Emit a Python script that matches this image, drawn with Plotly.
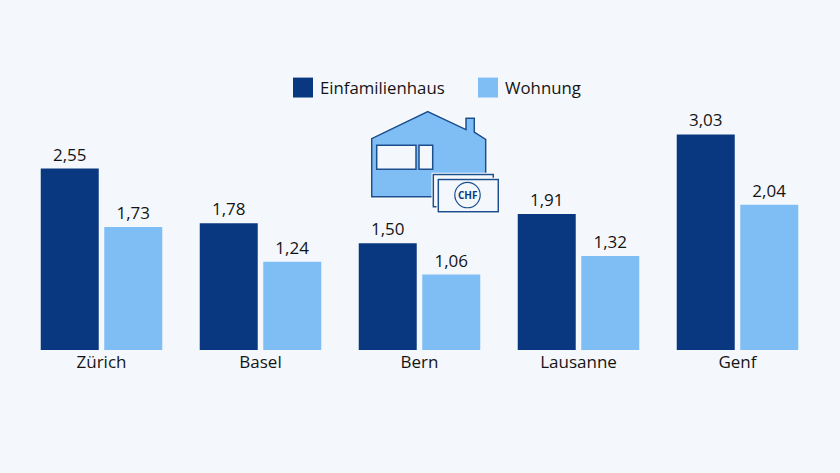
# -*- coding: utf-8 -*-
import plotly.graph_objects as go

cities = ["Zürich", "Basel", "Bern", "Lausanne", "Genf"]
einfamilienhaus = [2.55, 1.78, 1.50, 1.91, 3.03]
wohnung = [1.73, 1.24, 1.06, 1.32, 2.04]

BG = "#f4f8fd"
DARK = "#0a3880"
LIGHT = "#7fbdf5"
INK = "#141414"
OUTLINE = "#1d4f8f"
W, H = 840, 473
ML, MR, MT, MB = 22, 23, 100.5, 122.5


# Pixelposition im Bild -> paper-Koordinaten (fuer Icon und Legende)
def px(x):
    return (x - ML) / (W - ML - MR)


def py(y):
    return 1 - (y - MT) / (H - MT - MB)


def path(points):
    return "M " + " L ".join(f"{px(x)} {py(y)}" for x, y in points) + " Z"


def poly(points, fill, line=OUTLINE, width=1.5):
    return dict(type="path", xref="paper", yref="paper", path=path(points),
                fillcolor=fill, line=dict(color=line, width=width), layer="above")


def rect(x0, y0, x1, y1, fill, line=OUTLINE, width=1.5):
    return poly([(x0, y0), (x1, y0), (x1, y1), (x0, y1)], fill, line, width)


fig = go.Figure()
for name, values, color in [("Einfamilienhaus", einfamilienhaus, DARK), ("Wohnung", wohnung, LIGHT)]:
    fig.add_trace(go.Bar(
        name=name, x=cities, y=values,
        marker=dict(color=color, line=dict(width=0)),
        texttemplate="%{y:.2f}", textposition="outside", cliponaxis=False,
        textfont=dict(size=17, color=INK),
    ))

house = [(371.7, 138.3), (427.7, 111), (466, 129.3), (466, 117.7), (474.3, 117.7),
         (474.3, 131.7), (485.7, 139), (485.7, 174), (433.3, 174), (433.3, 196.7), (371.7, 196.7)]

shapes = [
    # Legende
    rect(293, 77, 313, 97, DARK, DARK, 0),
    rect(478, 77, 498, 97, LIGHT, LIGHT, 0),
    # Haus: weisser Saum unter der dunklen Kontur
    poly(house, LIGHT, "#ffffff", 3.5),
    poly(house, LIGHT),
    rect(376.7, 145, 416, 169, BG),
    rect(419, 145, 432.7, 169, BG),
    # Geldscheine
    rect(433.3, 174.3, 493.3, 206.7, BG, "#ffffff", 3.5),
    rect(433.3, 174.3, 493.3, 206.7, BG),
    rect(438.3, 179.3, 498.3, 211.7, BG, "#ffffff", 3.5),
    rect(438.3, 179.3, 498.3, 211.7, BG),
    dict(type="circle", xref="paper", yref="paper", layer="above",
         x0=px(454.8), x1=px(480.2), y0=py(207.7), y1=py(182.3),
         fillcolor=BG, line=dict(color=OUTLINE, width=1.2)),
]

annotations = [
    dict(x=px(318.2), y=py(87), text="Einfamilienhaus"),
    dict(x=px(503.2), y=py(87), text="Wohnung"),
]
annotations = [dict(a, xref="paper", yref="paper", xanchor="left", yanchor="middle", showarrow=False,
                    font=dict(size=16.8, color=INK)) for a in annotations]
annotations.append(dict(x=px(467.5), y=py(195), text="<b>CHF</b>", xref="paper", yref="paper",
                        xanchor="center", yanchor="middle", showarrow=False,
                        font=dict(size=10, color=DARK)))

fig.update_layout(
    width=W, height=H,
    barmode="group", bargap=0.201, bargroupgap=0.087,
    separators=",.",
    showlegend=False,
    paper_bgcolor=BG, plot_bgcolor=BG,
    font=dict(family="Open Sans, sans-serif", size=17, color=INK),
    margin=dict(l=ML, r=MR, t=MT, b=MB, pad=0),
    xaxis=dict(showgrid=False, showline=False, ticks="", tickfont=dict(size=17, color=INK)),
    yaxis=dict(visible=False, range=[0, 3.5], fixedrange=True),
    shapes=shapes, annotations=annotations,
)

# Standardrand der Seite entfernen, sonst sitzt alles 8 px versetzt
fig.write_html("out.html", config={"displayModeBar": False},
               post_script="document.body.style.margin='0';document.body.style.background='" + BG + "';")
